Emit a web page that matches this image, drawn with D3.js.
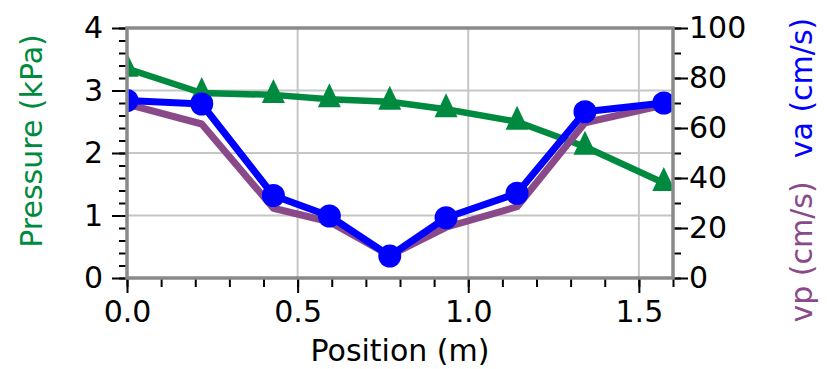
<!DOCTYPE html>
<html>
<head>
<meta charset="utf-8">
<script src="https://cdn.jsdelivr.net/npm/d3@7"></script>
<style>
  body { margin: 0; background: #fff; }
  text { font-family: "DejaVu Sans", sans-serif; font-size: 30px; }
</style>
</head>
<body>
<div id="chart"></div>
<script>
// data
const position = [0, 0.219, 0.429, 0.593, 0.770, 0.935, 1.143, 1.342, 1.573];
const pressure = [3.35, 2.96, 2.93, 2.86, 2.82, 2.70, 2.50, 2.10, 1.52];
const va = [71, 69.6, 33, 24.8, 8.8, 24.1, 33.9, 66.5, 70];
const vp = [69.5, 61.6, 27.9, 22.5, 9, 20.3, 28.5, 62.1, 69.2];

const xTicks = [0, 0.5, 1.0, 1.5];
const pTicks = [0, 1, 2, 3, 4];
const vTicks = [0, 20, 40, 60, 80, 100];

const GREEN = '#008a40';
const BLUE = '#0000ff';
const PURPLE = '#8a4a8a';
const FRAME = '#8a8a8a';
const GRID = '#c6c6c6';

const W = 827, H = 369;
const margin = { left: 127, top: 28, right: 154, bottom: 91 };
const width = W - margin.left - margin.right;
const height = H - margin.top - margin.bottom;

const svg = d3.select('#chart').append('svg')
    .attr('width', W)
    .attr('height', H);

const g = svg.append('g')
    .attr('transform', `translate(${margin.left},${margin.top})`);

const x = d3.scaleLinear().domain([0, 1.6]).range([0, width]);
const yP = d3.scaleLinear().domain([0, 4]).range([height, 0]);
const yV = d3.scaleLinear().domain([0, 100]).range([height, 0]);

// grid
g.append('g').selectAll('line')
    .data(xTicks.filter(d => d > 0))
    .join('line')
    .attr('x1', d => x(d)).attr('x2', d => x(d))
    .attr('y1', 0).attr('y2', height)
    .attr('stroke', GRID).attr('stroke-width', 2);

g.append('g').selectAll('line')
    .data(pTicks.filter(d => d > 0 && d < 4))
    .join('line')
    .attr('x1', 0).attr('x2', width)
    .attr('y1', d => yP(d)).attr('y2', d => yP(d))
    .attr('stroke', GRID).attr('stroke-width', 2);

// axes (tick marks only, frame drawn later)
function styleAxis(sel) {
    sel.select('.domain').remove();
    sel.selectAll('line').attr('stroke', '#000').attr('stroke-width', 2);
    sel.selectAll('text').attr('fill', '#000').style('font-size', '30px');
}

// minor ticks
g.append('g')
    .attr('transform', `translate(0,${height})`)
    .call(d3.axisBottom(x).tickValues(d3.range(0, 17).map(i => i / 10)).tickSize(9).tickFormat(''))
    .call(styleAxis);
g.append('g')
    .call(d3.axisLeft(yP).tickValues(d3.range(0, 21).map(i => i / 5)).tickSize(8).tickFormat(''))
    .call(styleAxis);
g.append('g')
    .attr('transform', `translate(${width},0)`)
    .call(d3.axisRight(yV).tickValues(d3.range(0, 11).map(i => i * 10)).tickSize(8).tickFormat(''))
    .call(styleAxis);

// major ticks + labels
g.append('g')
    .attr('transform', `translate(0,${height})`)
    .call(d3.axisBottom(x).tickValues(xTicks).tickSize(15).tickPadding(8).tickFormat(d3.format('.1f')))
    .call(styleAxis);
g.append('g')
    .call(d3.axisLeft(yP).tickValues(pTicks).tickSize(15).tickPadding(9).tickFormat(d3.format('d')))
    .call(styleAxis);
g.append('g')
    .attr('transform', `translate(${width},0)`)
    .call(d3.axisRight(yV).tickValues(vTicks).tickSize(15).tickPadding(1).tickFormat(d3.format('d')))
    .call(styleAxis);

// series, clipped to plot area
svg.append('clipPath').attr('id', 'plot')
    .append('rect').attr('width', width).attr('height', height);

const plot = g.append('g').attr('clip-path', 'url(#plot)');

const lineP = d3.line().x((d, i) => x(position[i])).y(d => yP(d));
const lineV = d3.line().x((d, i) => x(position[i])).y(d => yV(d));

plot.append('path').datum(pressure)
    .attr('d', lineP)
    .attr('fill', 'none').attr('stroke', GREEN).attr('stroke-width', 6.5)
    .attr('stroke-linejoin', 'round');

// triangle marker, centroid at the data point
const tri = 'M0,-16L11.5,8L-11.5,8Z';
plot.append('g').selectAll('path')
    .data(pressure)
    .join('path')
    .attr('d', tri)
    .attr('transform', (d, i) => `translate(${x(position[i])},${yP(d)})`)
    .attr('fill', GREEN);

plot.append('path').datum(vp)
    .attr('d', lineV)
    .attr('fill', 'none').attr('stroke', PURPLE).attr('stroke-width', 7)
    .attr('stroke-linejoin', 'round');

plot.append('path').datum(va)
    .attr('d', lineV)
    .attr('fill', 'none').attr('stroke', BLUE).attr('stroke-width', 7)
    .attr('stroke-linejoin', 'round');

plot.append('g').selectAll('circle')
    .data(va)
    .join('circle')
    .attr('cx', (d, i) => x(position[i]))
    .attr('cy', d => yV(d))
    .attr('r', 11.5)
    .attr('fill', BLUE);

// frame
g.append('rect')
    .attr('width', width).attr('height', height)
    .attr('fill', 'none').attr('stroke', FRAME).attr('stroke-width', 3.5);

// axis titles
svg.append('text')
    .attr('transform', `translate(42,141) rotate(-90)`)
    .attr('text-anchor', 'middle')
    .attr('fill', GREEN)
    .text('Pressure (kPa)');

svg.append('text')
    .attr('transform', `translate(812,252) rotate(-90)`)
    .attr('text-anchor', 'middle')
    .attr('fill', PURPLE)
    .text('vp (cm/s)');

svg.append('text')
    .attr('transform', `translate(812,88) rotate(-90)`)
    .attr('text-anchor', 'middle')
    .attr('fill', BLUE)
    .text('va (cm/s)');

svg.append('text')
    .attr('x', margin.left + width / 2)
    .attr('y', 361)
    .attr('text-anchor', 'middle')
    .attr('fill', '#000')
    .text('Position (m)');
</script>
</body>
</html>
